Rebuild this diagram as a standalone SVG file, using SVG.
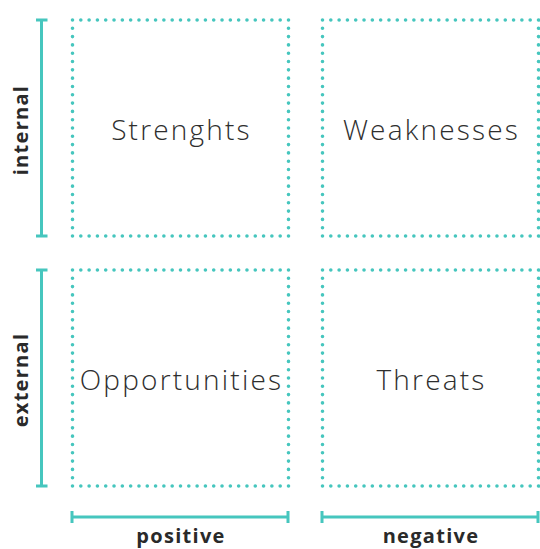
<svg xmlns="http://www.w3.org/2000/svg" width="540" height="549" viewBox="0 0 540 549">
<style>
.box{fill:none;stroke:#46c6be;stroke-width:3.6;stroke-linecap:round;stroke-dasharray:0 8.3077}
.br{fill:none;stroke:#46c6be;stroke-width:3}
.lbl{font-family:"Open Sans","DejaVu Sans",sans-serif;font-weight:300;font-size:28px;fill:#2e2e2e;text-anchor:middle;letter-spacing:2.2px}
.ax{font-family:"Open Sans","DejaVu Sans",sans-serif;font-weight:700;font-size:20px;fill:#2a2a2a;text-anchor:middle;letter-spacing:1.3px}
</style>
<rect width="540" height="549" fill="#fff"/>
<g id="connectors">
<path class="br" d="M41.5,20V236M36,20H47.5M36,236H47.5"/>
<path class="br" d="M41.5,270V486M36,270H47.5M36,486H47.5"/>
<path class="br" d="M72,517H288M72,511V523M288,511V523"/>
<path class="br" d="M322,517H538M322,511V523M538,511V523"/>
</g>
<g id="strengths">
<rect class="box" x="72.5" y="20" width="216" height="216"/>
<text class="lbl" x="181.5" y="140">Strenghts</text>
</g>
<g id="weaknesses">
<rect class="box" x="322.5" y="20" width="216" height="216"/>
<text class="lbl" x="431.5" y="140">Weaknesses</text>
</g>
<g id="opportunities">
<rect class="box" x="72.5" y="270" width="216" height="216"/>
<text class="lbl" x="181.5" y="390">Opportunities</text>
</g>
<g id="threats">
<rect class="box" x="322.5" y="270" width="216" height="216"/>
<text class="lbl" x="431.5" y="390">Threats</text>
</g>
<g id="axis-labels">
<text class="ax" transform="translate(28,130) rotate(-90)">internal</text>
<text class="ax" transform="translate(28,380) rotate(-90)">external</text>
<text class="ax" x="181" y="543">positive</text>
<text class="ax" x="431" y="543">negative</text>
</g>
</svg>
